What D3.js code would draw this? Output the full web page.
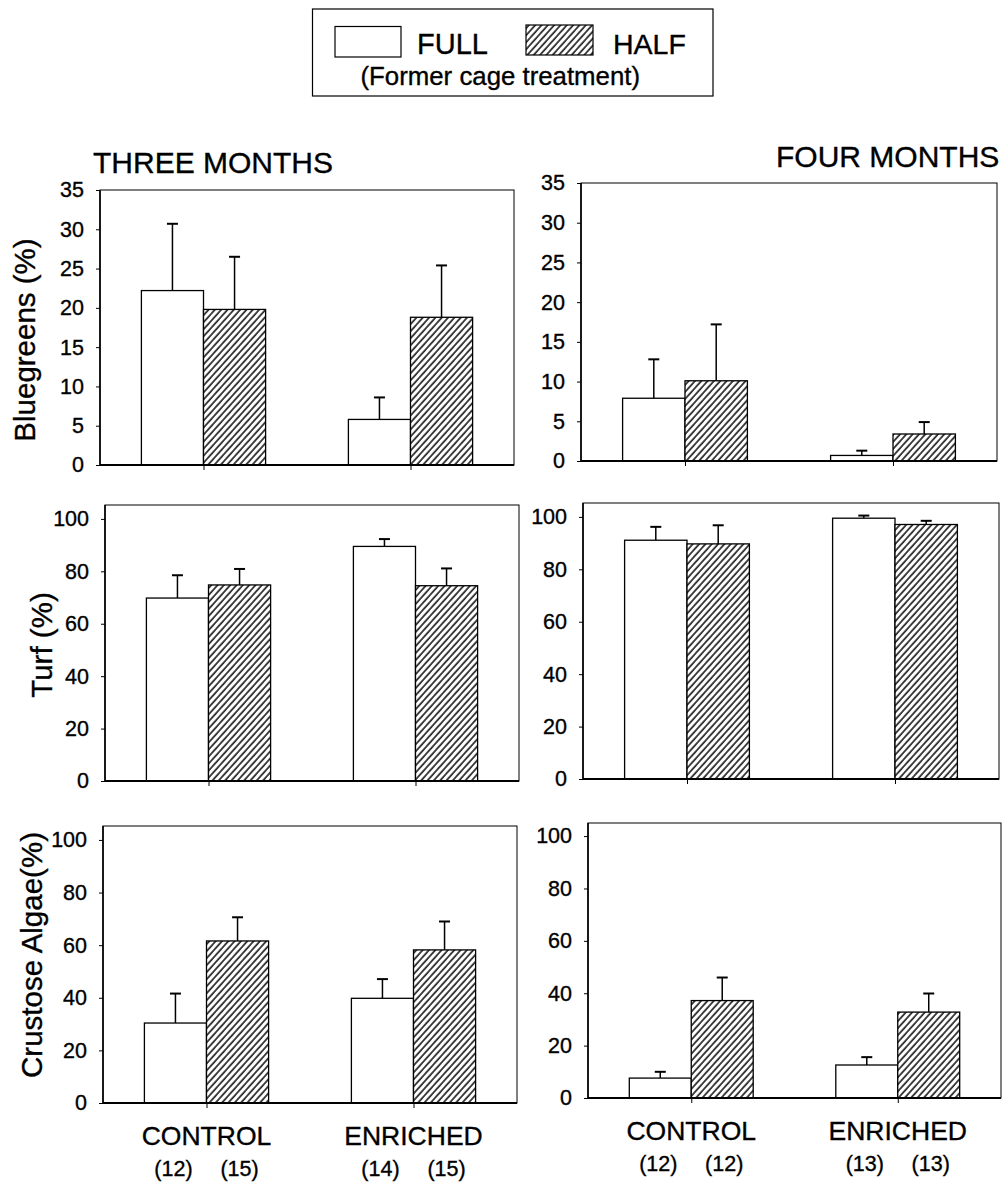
<!DOCTYPE html>
<html>
<head>
<meta charset="utf-8">
<script src="https://cdn.jsdelivr.net/npm/d3@7"></script>
<style>
  html, body { margin: 0; padding: 0; background: #fff; }
  svg { display: block; font-family: "Liberation Sans", Arial, sans-serif; }
  svg text { stroke: #000; stroke-width: 0.35px; fill: #000; }
</style>
</head>
<body>
<svg id="chart" width="1003" height="1183"></svg>
<script>
// ---------------- DATA ----------------
const categories = ["CONTROL", "ENRICHED"];
const series = ["FULL", "HALF"];
const periodTitles = ["THREE MONTHS", "FOUR MONTHS"];
const variables = ["Bluegreens (%)", "Turf (%)", "Crustose Algae(%)"];

const bluegreensTicks = [0, 5, 10, 15, 20, 25, 30, 35];
const percentTicks = [0, 20, 40, 60, 80, 100];

// means (FULL, HALF) per category, and standard errors
const blue3Full = [22.2, 5.8],  blue3FullSE = [8.5, 2.8];
const blue3Half = [19.8, 18.8], blue3HalfSE = [6.7, 6.6];
const turf3Full = [69.8, 89.5], turf3FullSE = [8.7, 2.8];
const turf3Half = [74.8, 74.5], turf3HalfSE = [6.1, 6.6];
const crust3Full = [30.4, 39.8], crust3FullSE = [11.2, 7.3];
const crust3Half = [61.6, 58.2], crust3HalfSE = [9.0, 10.8];

const blue4Full = [7.9, 0.7],   blue4FullSE = [4.9, 0.6];
const blue4Half = [10.1, 3.4],  blue4HalfSE = [7.1, 1.5];
const turf4Full = [91.1, 99.5], turf4FullSE = [5.1, 1.0];
const turf4Half = [89.7, 97.1], turf4HalfSE = [7.1, 1.4];
const crust4Full = [7.6, 12.6], crust4FullSE = [2.4, 3.0];
const crust4Half = [37.2, 32.8], crust4HalfSE = [8.8, 7.1];

const sampleSizes3 = [["(12)", "(15)"], ["(14)", "(15)"]];
const sampleSizes4 = [["(12)", "(12)"], ["(13)", "(13)"]];

// ---------------- LAYOUT ----------------
const svg = d3.select("#chart");
const FONT = '"Liberation Sans", Arial, sans-serif';

const defs = svg.append("defs");
const pat = defs.append("pattern")
  .attr("id", "hatch")
  .attr("patternUnits", "userSpaceOnUse")
  .attr("width", 4.7).attr("height", 10)
  .attr("patternTransform", "rotate(42)");
pat.append("rect").attr("width", 4.7).attr("height", 10).attr("fill", "#fff");
pat.append("line").attr("x1", 1).attr("y1", 0).attr("x2", 1).attr("y2", 10)
  .attr("stroke", "#000").attr("stroke-width", 1.45);

const panels = [
  { row: 0, col: 0, x0: 100, x1: 514, y0: 190, y1: 465, max: 35, ticks: bluegreensTicks,
    full: blue3Full, fullSE: blue3FullSE, half: blue3Half, halfSE: blue3HalfSE },
  { row: 0, col: 1, x0: 581, x1: 997, y0: 183, y1: 461, max: 35, ticks: bluegreensTicks,
    full: blue4Full, fullSE: blue4FullSE, half: blue4Half, halfSE: blue4HalfSE },
  { row: 1, col: 0, x0: 105, x1: 519, y0: 505, y1: 781, max: 105.3, ticks: percentTicks,
    full: turf3Full, fullSE: turf3FullSE, half: turf3Half, halfSE: turf3HalfSE },
  { row: 1, col: 1, x0: 583, x1: 999, y0: 503, y1: 779, max: 105.3, ticks: percentTicks,
    full: turf4Full, fullSE: turf4FullSE, half: turf4Half, halfSE: turf4HalfSE },
  { row: 2, col: 0, x0: 103, x1: 517, y0: 826, y1: 1103, max: 105.3, ticks: percentTicks,
    full: crust3Full, fullSE: crust3FullSE, half: crust3Half, halfSE: crust3HalfSE },
  { row: 2, col: 1, x0: 588, x1: 1001, y0: 823, y1: 1098, max: 105, ticks: percentTicks,
    full: crust4Full, fullSE: crust4FullSE, half: crust4Half, halfSE: crust4HalfSE }
];

panels.forEach(p => {
  const w = p.x1 - p.x0, h = p.y1 - p.y0;
  const g = svg.append("g").attr("transform", `translate(${p.x0},${p.y0})`);
  const x = d3.scalePoint().domain(categories).range([0, w]).padding(0.5);
  const y = d3.scaleLinear().domain([0, p.max]).range([h, 0]);
  const bw = w * 0.15;

  // frame (top/right thin)
  g.append("rect").attr("x", 0).attr("y", 0).attr("width", w).attr("height", h)
    .attr("fill", "none").attr("stroke", "#000").attr("stroke-width", 1);

  // bars
  const bars = [];
  categories.forEach((c, i) => {
    bars.push({ cat: c, s: "FULL", v: p.full[i], se: p.fullSE[i], x: x(c) - bw });
    bars.push({ cat: c, s: "HALF", v: p.half[i], se: p.halfSE[i], x: x(c) });
  });

  // error bars
  bars.forEach(b => {
    const cx = b.x + bw / 2;
    g.append("line").attr("x1", cx).attr("x2", cx)
      .attr("y1", y(b.v)).attr("y2", y(b.v + b.se))
      .attr("stroke", "#000").attr("stroke-width", 1.5);
    g.append("line").attr("x1", cx - 5.5).attr("x2", cx + 5.5)
      .attr("y1", y(b.v + b.se)).attr("y2", y(b.v + b.se))
      .attr("stroke", "#000").attr("stroke-width", 2);
  });

  g.selectAll("rect.bar").data(bars).enter().append("rect")
    .attr("class", "bar")
    .attr("x", d => d.x).attr("width", bw)
    .attr("y", d => y(d.v)).attr("height", d => h - y(d.v))
    .attr("fill", d => d.s === "FULL" ? "#fff" : "url(#hatch)")
    .attr("stroke", "#000").attr("stroke-width", 1.3);

  // left axis
  const ya = d3.axisLeft(y).tickValues(p.ticks).tickSize(4).tickPadding(12).tickFormat(d3.format("d"));
  const yg = g.append("g").call(ya);
  yg.select(".domain").remove();
  yg.selectAll("text").attr("font-size", 21.5).attr("font-family", FONT).attr("fill", "#000");
  yg.selectAll("line").attr("stroke", "#000");
  g.append("line").attr("x1", 0).attr("x2", 0).attr("y1", 0).attr("y2", h)
    .attr("stroke", "#000").attr("stroke-width", 1.6);

  // bottom axis
  const xa = d3.axisBottom(x).tickSize(5).tickFormat("");
  const xg = g.append("g").attr("transform", `translate(0,${h})`).call(xa);
  xg.select(".domain").remove();
  xg.selectAll("line").attr("stroke", "#000").attr("stroke-width", 1);
  g.append("line").attr("x1", 0).attr("x2", w).attr("y1", h).attr("y2", h)
    .attr("stroke", "#000").attr("stroke-width", 2);

  // category labels under bottom row
  if (p.row === 2) {
    const ns = p.col === 0 ? sampleSizes3 : sampleSizes4;
    categories.forEach((c, i) => {
      g.append("text").attr("x", x(c)).attr("y", h + 42)
        .attr("text-anchor", "middle").attr("font-size", 26.5).attr("font-family", FONT)
        .text(c);
      [x(c) - bw / 2 - 2, x(c) + bw / 2 + 2].forEach((cx, k) => {
        g.append("text").attr("x", cx).attr("y", h + 73)
          .attr("text-anchor", "middle").attr("font-size", 21.5).attr("font-family", FONT)
          .text(ns[i][k]);
      });
    });
  }
});

// period titles
svg.append("text").attr("x", 93).attr("y", 173).attr("font-size", 30).attr("font-family", FONT)
  .text(periodTitles[0]);
svg.append("text").attr("x", 776).attr("y", 167).attr("font-size", 30).attr("font-family", FONT)
  .text(periodTitles[1]);

// y-axis variable labels
const yLabelPos = [[35, 340], [52, 645], [42, 955]];
variables.forEach((v, i) => {
  svg.append("text")
    .attr("transform", `translate(${yLabelPos[i][0]},${yLabelPos[i][1]}) rotate(-90)`)
    .attr("text-anchor", "middle").attr("font-size", 29.5).attr("font-family", FONT)
    .text(v);
});

// legend
const lg = svg.append("g");
lg.append("rect").attr("x", 312.5).attr("y", 9).attr("width", 400.5).attr("height", 87)
  .attr("fill", "#fff").attr("stroke", "#000").attr("stroke-width", 1.2);
lg.append("rect").attr("x", 335).attr("y", 26.5).attr("width", 66).attr("height", 30.5)
  .attr("fill", "#fff").attr("stroke", "#000").attr("stroke-width", 1.2);
lg.append("text").attr("x", 417).attr("y", 53.5).attr("font-size", 29).attr("font-family", FONT)
  .text(series[0]);
lg.append("rect").attr("x", 526).attr("y", 25).attr("width", 67).attr("height", 30)
  .attr("fill", "url(#hatch)").attr("stroke", "#000").attr("stroke-width", 1.2);
lg.append("text").attr("x", 613).attr("y", 53.5).attr("font-size", 28.5).attr("font-family", FONT)
  .text(series[1]);
lg.append("text").attr("x", 360.5).attr("y", 85).attr("font-size", 25.8).attr("font-family", FONT)
  .text("(Former cage treatment)");
</script>
</body>
</html>
